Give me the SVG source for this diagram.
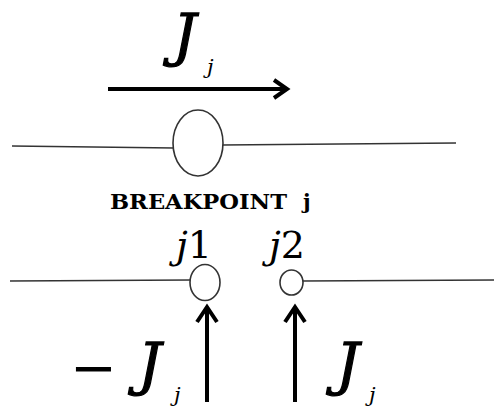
<svg xmlns="http://www.w3.org/2000/svg" width="494" height="412" viewBox="0 0 494 412">
<style>
.wire{stroke:#333;stroke-width:1.6;fill:none}
.node{stroke:#333;stroke-width:1.6;fill:#fff}
.arr{stroke:#000;stroke-width:4;fill:none;stroke-linejoin:miter;stroke-linecap:butt}
text{font-family:'DejaVu Serif','Liberation Serif',serif;fill:#000}
.big{font-style:italic;font-size:58px;stroke:#000;stroke-width:1.2}
.sub{font-style:italic;font-size:21px}
.lbl{font-size:38px}
.bp{font-weight:bold;font-size:21px}
.minus{font-size:56px}
</style>
<rect width="494" height="412" fill="#fff"/>
<g id="connectors">
<path class="wire" d="M12 146 L174 148"/>
<path class="wire" d="M222 145 L456 143"/>
<path class="wire" d="M10 281 L191 280"/>
<path class="wire" d="M303 281 L494 280"/>
<g id="arrow-top">
<line class="arr" x1="108" y1="89" x2="286" y2="89"/>
<polyline class="arr" points="274,80 287,89 274,98"/>
</g>
<g id="arrow-j1">
<line class="arr" x1="207" y1="402" x2="207" y2="309"/>
<polyline class="arr" points="197,322 207,307 217,322"/>
</g>
<g id="arrow-j2">
<line class="arr" x1="295" y1="402" x2="295" y2="309"/>
<polyline class="arr" points="285,322 295,307 305,322"/>
</g>
</g>
<g id="breakpoint">
<ellipse class="node" cx="198" cy="143" rx="25" ry="33"/>
<text class="bp" x="110" y="209" textLength="177" lengthAdjust="spacingAndGlyphs">BREAKPOINT</text>
<text class="bp" x="303" y="209">j</text>
</g>
<g id="node-j1">
<ellipse class="node" cx="205" cy="282.5" rx="15" ry="18"/>
<text class="lbl" x="176" y="258"><tspan font-style="italic">j</tspan>1</text>
</g>
<g id="node-j2">
<ellipse class="node" cx="291.5" cy="282.5" rx="11.5" ry="12.5"/>
<text class="lbl" x="269" y="258"><tspan font-style="italic">j</tspan>2</text>
</g>
<g id="label-top">
<text class="big" x="173" y="55">J</text>
<text class="sub" x="207" y="74">j</text>
</g>
<g id="label-left">
<text class="minus" x="70" y="387">−</text>
<text class="big" x="138" y="384">J</text>
<text class="sub" x="174" y="402">j</text>
</g>
<g id="label-right">
<text class="big" x="336" y="384">J</text>
<text class="sub" x="369" y="402">j</text>
</g>
</svg>
